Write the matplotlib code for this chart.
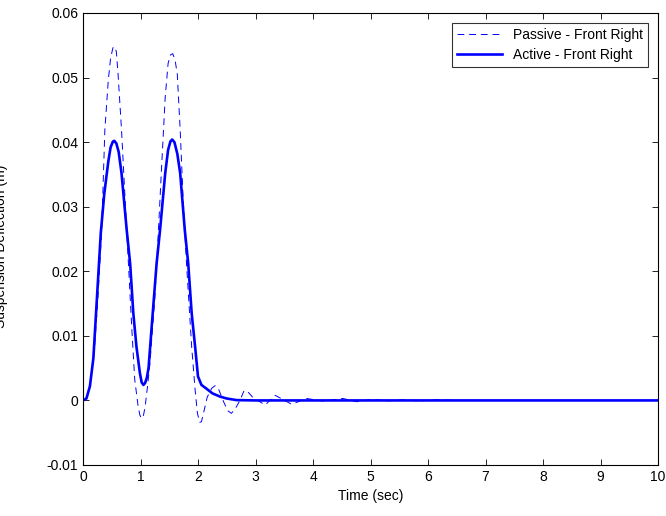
import numpy as np
import matplotlib.pyplot as plt

plt.rcParams['font.family'] = ['Liberation Sans', 'DejaVu Sans']

# Active - Front Right (solid)
t_active = [0, 0.06, 0.12, 0.18, 0.24, 0.31, 0.37, 0.44, 0.48, 0.52, 0.545, 0.58,
            0.62, 0.67, 0.76, 0.82, 0.875, 0.93, 0.99, 1.02, 1.05, 1.08, 1.11,
            1.14, 1.19, 1.28, 1.34, 1.43, 1.48, 1.52, 1.55, 1.59, 1.64, 1.69,
            1.77, 1.83, 1.89, 1.95, 2.0, 2.06, 2.15, 2.25, 2.38, 2.5, 2.67, 3.0,
            10.0]
y_active = [0, 0.0003, 0.0022, 0.0065, 0.0155, 0.026, 0.032, 0.037, 0.0392, 0.0401,
            0.0402, 0.0398, 0.0385, 0.0352, 0.0264, 0.0212, 0.0135, 0.0083, 0.0042,
            0.0028, 0.0024, 0.0027, 0.0035, 0.005, 0.0109, 0.0212, 0.0264, 0.0352,
            0.0388, 0.0401, 0.0404, 0.04, 0.0382, 0.0352, 0.0264, 0.0212, 0.0135,
            0.0083, 0.0037, 0.0024, 0.0018, 0.0011, 0.0006, 0.0003, 0.00005, 0.0,
            0.0]

# Passive - Front Right (dashed)
t_passive = [0, 0.06, 0.12, 0.2, 0.26, 0.325, 0.38, 0.44, 0.48, 0.52, 0.55, 0.58,
             0.61, 0.67, 0.73, 0.79, 0.85, 0.9, 0.96, 0.99, 1.02, 1.05, 1.08, 1.12,
             1.165, 1.25, 1.31, 1.37, 1.43, 1.48, 1.52, 1.56, 1.6, 1.64, 1.69, 1.74,
             1.8, 1.89, 1.95, 1.99, 2.03, 2.06, 2.1, 2.16, 2.24, 2.3, 2.36, 2.45,
             2.52, 2.58, 2.64, 2.73, 2.8, 2.86, 2.96, 3.17, 3.34, 3.63, 3.89, 4.17,
             4.52, 4.76, 5.04, 5.27, 5.56, 5.85, 6.1, 6.5, 10.0]
y_passive = [0, 0.0003, 0.002, 0.008, 0.016, 0.0264, 0.0419, 0.0496, 0.053, 0.0546,
             0.0548, 0.054, 0.0505, 0.0419, 0.0315, 0.0212, 0.0109, 0.0032, -0.001,
             -0.0023, -0.0028, -0.0024, -0.001, 0.002, 0.0058, 0.016, 0.026, 0.0367,
             0.047, 0.0522, 0.0535, 0.0537, 0.0528, 0.0505, 0.0419, 0.0315, 0.0212,
             0.0083, 0.0016, -0.002, -0.0034, -0.0033, -0.0018, 0.0005, 0.0019,
             0.0023, 0.0017, -0.0003, -0.0016, -0.002, -0.0014, 0.0, 0.0015, 0.0014,
             0.0004, -0.0007, 0.0008, -0.0006, 0.0003, -0.0001, 0.0003, -0.0002,
             0.0002, -0.0001, 0.0001, -0.0001, 0.0001, 0.0, 0.0]

fig = plt.figure(figsize=(6.66, 5.16), dpi=100)
ax = fig.add_axes([83 / 666, 1 - 465 / 516, (658 - 83) / 666, (465 - 13) / 516])

ax.plot(t_passive, y_passive, color='#0000ff', linestyle=(0, (7, 5)), linewidth=0.7,
        label='Passive - Front Right')
ax.plot(t_active, y_active, color='#0000ff', linewidth=1.9,
        label='Active - Front Right')

ax.set_xlim(0, 10)
ax.set_ylim(-0.01, 0.06)
ax.set_xticks(np.arange(0, 11, 1))
ax.set_yticks([-0.01, 0, 0.01, 0.02, 0.03, 0.04, 0.05, 0.06])
ax.set_yticklabels(['-0.01', '0', '0.01', '0.02', '0.03', '0.04', '0.05', '0.06'])
ax.tick_params(direction='in', top=True, right=True, labelsize=10, length=4, width=0.6)
for s in ax.spines.values():
    s.set_linewidth(0.8)

ax.set_xlabel('Time (sec)', fontsize=10, labelpad=4)

# y label is mostly cropped off the left edge in the reference
fig.text(1 / 666, 1 - 246 / 516, 'Suspension Deflection (m)', rotation=90,
         ha='center', va='center', fontsize=10)

leg = ax.legend(loc='upper right', fontsize=10, frameon=True, fancybox=False,
                edgecolor='black', borderaxespad=0.7, handlelength=3.2,
                borderpad=0.4, labelspacing=0.4)
leg.get_frame().set_linewidth(0.8)

fig.savefig('out.png', dpi=100, facecolor='white')
